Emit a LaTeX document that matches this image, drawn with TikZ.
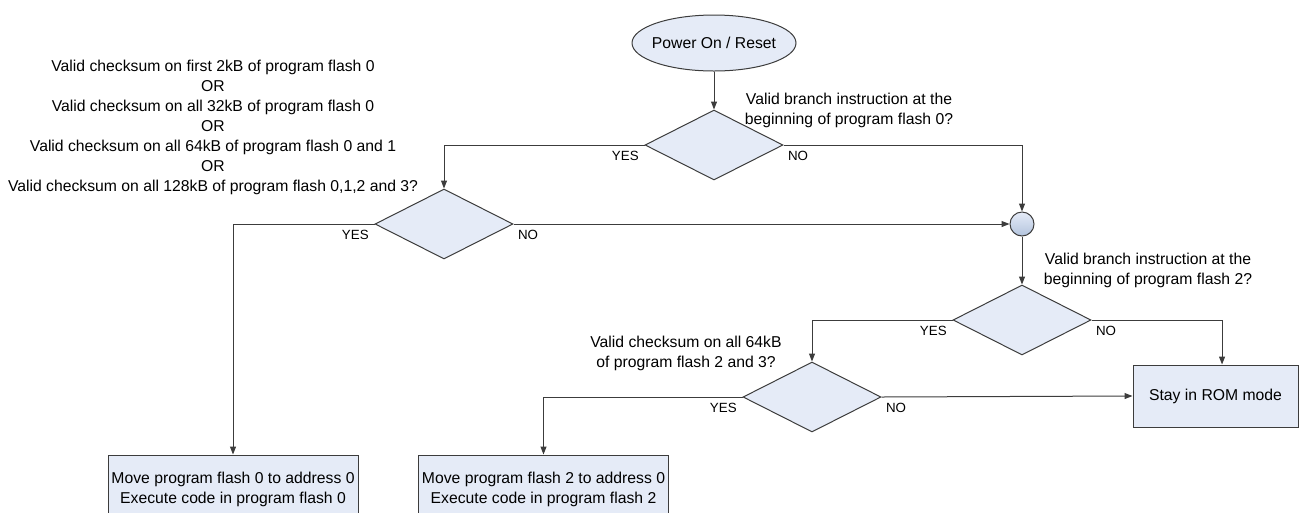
\documentclass[tikz,border=0pt]{standalone}
\usepackage{fontspec}
\setmainfont{Liberation Sans}
\usetikzlibrary{arrows.meta,shapes.geometric}
\definecolor{FlowLine}{HTML}{3C3C3C}
\definecolor{FlowFill}{HTML}{E5EBF7}
\definecolor{JoinDark}{HTML}{B3C4DE}

\begin{document}
\begin{tikzpicture}[x=0.75pt,y=-0.75pt,
      every node/.style={font=\fontsize{11.8}{15}\selectfont},
      flow/.style={draw=FlowLine,line width=0.75pt,-{Triangle[length=6pt,width=4.5pt]}},
      terminal/.style={ellipse,draw=FlowLine,fill=FlowFill,line width=0.75pt,
      inner xsep=-3.5pt,inner ysep=0pt,minimum width=123pt,minimum height=42pt},
      decision/.style={diamond,draw=FlowLine,fill=FlowFill,line width=0.75pt,
      minimum width=103.5pt,minimum height=52.5pt,inner sep=0pt},
      process/.style={rectangle,draw=FlowLine,fill=FlowFill,line width=0.75pt,align=center,inner sep=2pt},
      joint/.style={circle,draw=FlowLine,top color=FlowFill,bottom color=JoinDark,line width=0.75pt,
      minimum size=18pt,inner sep=0pt},
      note/.style={align=center,inner sep=0pt},
      yeslbl/.style={anchor=north east,font=\fontsize{10}{12}\selectfont,inner sep=1pt,xshift=-3pt,yshift=-3pt},
      nolbl/.style={anchor=north west,font=\fontsize{10}{12}\selectfont,inner sep=1pt,xshift=2pt,yshift=-3pt}]
      \useasboundingbox (0,0) rectangle (1299,512);
      \node[terminal] (start) at (714,43) {Power On / Reset};
      \node[decision] (br0) at (714,145) {};
      \node[note] (br0txt) at (849,110) {Valid branch instruction at the\\beginning of program flash 0?};
      \node[decision] (cs0) at (444,224) {};
      \node[note] (cs0txt) at (213,127.5) {Valid checksum on first 2kB of program flash 0\\OR\\Valid checksum on all 32kB of program flash 0\\OR\\Valid checksum on all 64kB of program flash 0 and 1\\OR\\Valid checksum on all 128kB of program flash 0,1,2 and 3?};
      \node[joint] (join) at (1022,224) {};
      \node[decision] (br2) at (1022,320) {};
      \node[note] (br2txt) at (1148,270) {Valid branch instruction at the\\beginning of program flash 2?};
      \node[decision] (cs2) at (812,397) {};
      \node[note] (cs2txt) at (686,353) {Valid checksum on all 64kB\\of program flash 2 and 3?};
      \node[process,minimum width=187.5pt,minimum height=51.75pt] (run0) at (233,489.5) {Move program flash 0 to address 0\\Execute code in program flash 0};
      \node[process,minimum width=187.5pt,minimum height=51.75pt] (run2) at (543.5,489.5) {Move program flash 2 to address 0\\Execute code in program flash 2};
      \node[process,minimum width=123.75pt,minimum height=46.5pt] (rom) at (1215.5,396) {Stay in ROM mode};
      \draw[flow] (start) -- (br0);
      \draw[flow] (br0.west) node[yeslbl] (yes0) {YES} -| (cs0.north);
      \draw[flow] (br0.east) node[nolbl] (no0) {NO} -| (join.north);
      \draw[flow] (cs0.west) node[yeslbl] (yes1) {YES} -| (run0.north);
      \draw[flow] (cs0.east) node[nolbl] (no1) {NO} -- (join.west);
      \draw[flow] (join) -- (br2);
      \draw[flow] (br2.west) node[yeslbl] (yes2) {YES} -| (cs2.north);
      \draw[flow] (br2.east) node[nolbl] (no2) {NO} -| ([xshift=4.9pt]rom.north);
      \draw[flow] (cs2.west) node[yeslbl] (yes3) {YES} -| (run2.north);
      \draw[flow] (cs2.east) node[nolbl] (no3) {NO} -- (rom.west);
    \end{tikzpicture}
\end{document}
